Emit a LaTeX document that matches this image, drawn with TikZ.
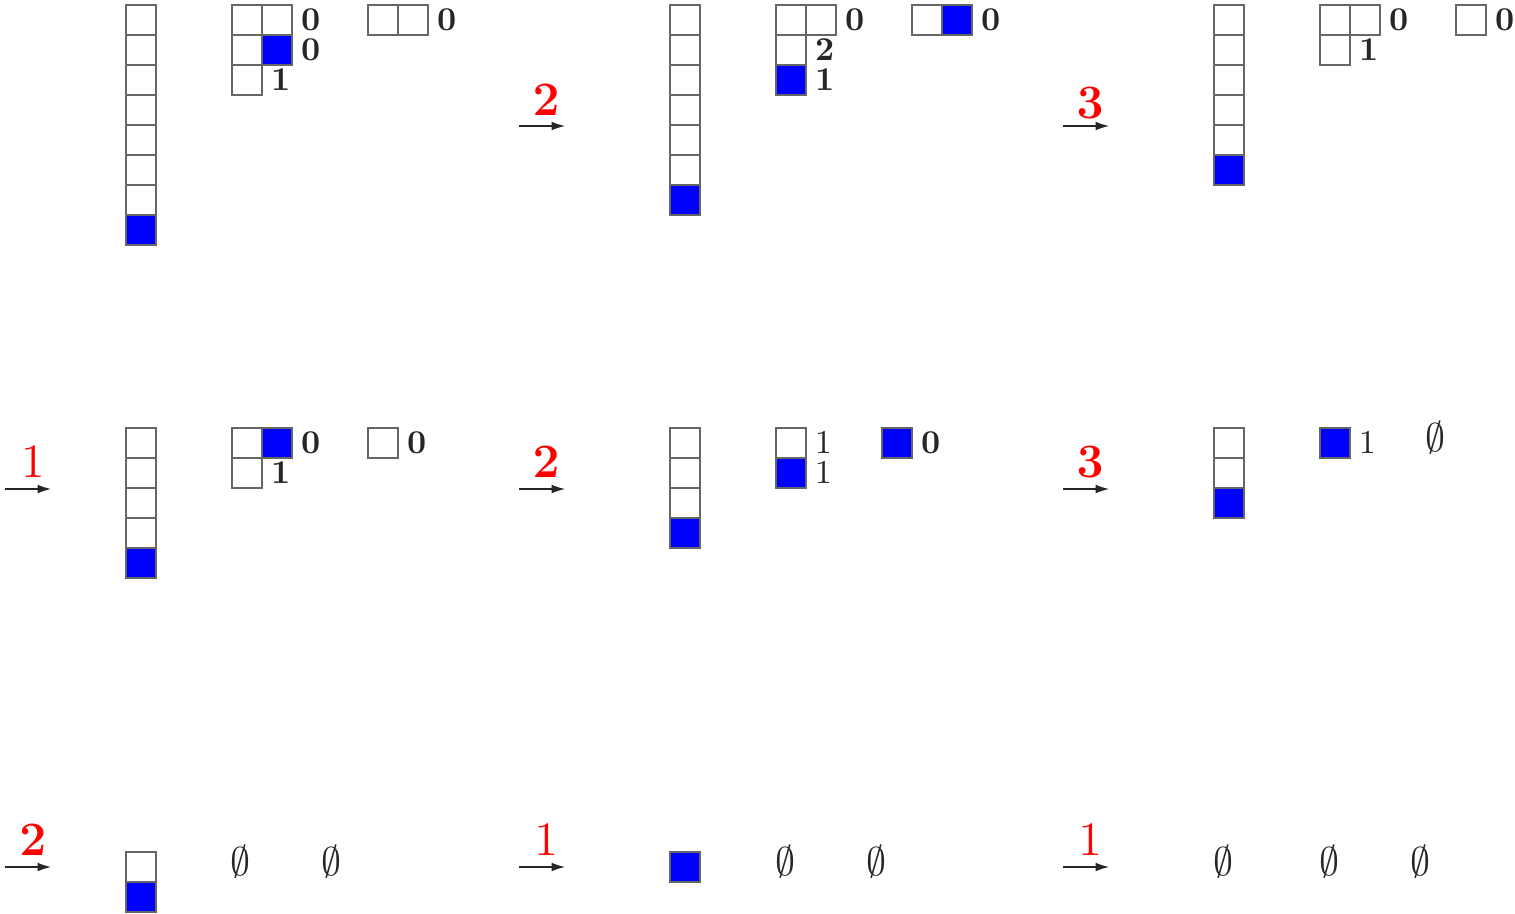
\documentclass[tikz,border=0pt]{standalone}
\usepackage{amsmath}
\usetikzlibrary{arrows.meta,positioning}
\definecolor{cellline}{HTML}{666666}
\definecolor{cellblue}{HTML}{0000FF}
\definecolor{stepred}{HTML}{FF0000}
% column of cells, the last one filled: name, x, top y, number of cells
\newcommand{\stackcol}[4]{%
  \foreach \i in {1,...,#4}{
    \ifnum\i=#4
      \node[filled] (#1-\i) at (#2,#3+30*\i-30) {};
    \else
      \node[cell] (#1-\i) at (#2,#3+30*\i-30) {};
    \fi
  }}

\begin{document}
\begin{tikzpicture}[
  x=0.3pt, y=-0.3pt,
  node distance=2.5pt,
  cell/.style={rectangle, draw=cellline, fill=white, minimum size=9pt, inner sep=0pt, outer sep=0pt, anchor=north west},
  filled/.style={cell, fill=cellblue},
  count/.style={inner sep=0pt, text=black!85},
  none/.style={count, font=\large},
  steplabel/.style={inner sep=0pt, text=stepred, font=\Large},
  arrow/.style={-{Latex[length=4pt,width=2.6pt]}, draw=black!85, line width=0.35pt}
]
\useasboundingbox (0,0) rectangle (1515,914);

% ---- first row ----
\stackcol{a1col}{126}{5}{8}
\node[cell] (a1g11) at (232,5) {};
\node[cell] (a1g12) at (262,5) {};
\node[cell] (a1g21) at (232,35) {};
\node[filled] (a1g22) at (262,35) {};
\node[cell] (a1g31) at (232,65) {};
\node[count, right=of a1g12] (a1n1) {$\mathbf{0}$};
\node[count, right=of a1g22] (a1n2) {$\mathbf{0}$};
\node[count, right=of a1g31] (a1n3) {$\mathbf{1}$};
\node[cell] (a1h1) at (368,5) {};
\node[cell] (a1h2) at (398,5) {};
\node[count, right=of a1h2] (a1n4) {$\mathbf{0}$};

\coordinate (a2s) at (519,126);
\coordinate (a2e) at (565,126);
\draw[arrow] (a2s) -- (a2e);
\node[steplabel] (a2l) at (546,100) {$\mathbf{2}$};
\stackcol{a2col}{670}{5}{7}
\node[cell] (a2g11) at (776,5) {};
\node[cell] (a2g12) at (806,5) {};
\node[cell] (a2g21) at (776,35) {};
\node[filled] (a2g31) at (776,65) {};
\node[count, right=of a2g12] (a2n1) {$\mathbf{0}$};
\node[count, right=of a2g21] (a2n2) {$\mathbf{2}$};
\node[count, right=of a2g31] (a2n3) {$\mathbf{1}$};
\node[cell] (a2h1) at (912,5) {};
\node[filled] (a2h2) at (942,5) {};
\node[count, right=of a2h2] (a2n4) {$\mathbf{0}$};

\coordinate (a3s) at (1063,126);
\coordinate (a3e) at (1109,126);
\draw[arrow] (a3s) -- (a3e);
\node[steplabel] (a3l) at (1090,103) {$\mathbf{3}$};
\stackcol{a3col}{1214}{5}{6}
\node[cell] (a3g11) at (1320,5) {};
\node[cell] (a3g12) at (1350,5) {};
\node[cell] (a3g21) at (1320,35) {};
\node[count, right=of a3g12] (a3n1) {$\mathbf{0}$};
\node[count, right=of a3g21] (a3n2) {$\mathbf{1}$};
\node[cell] (a3h1) at (1456,5) {};
\node[count, right=of a3h1] (a3n3) {$\mathbf{0}$};

% ---- second row ----
\coordinate (b1s) at (5,489);
\coordinate (b1e) at (51,489);
\draw[arrow] (b1s) -- (b1e);
\node[steplabel] (b1l) at (33,462) {$1$};
\stackcol{b1col}{126}{428}{5}
\node[cell] (b1g11) at (232,428) {};
\node[filled] (b1g12) at (262,428) {};
\node[cell] (b1g21) at (232,458) {};
\node[count, right=of b1g12] (b1n1) {$\mathbf{0}$};
\node[count, right=of b1g21] (b1n2) {$\mathbf{1}$};
\node[cell] (b1h1) at (368,428) {};
\node[count, right=of b1h1] (b1n3) {$\mathbf{0}$};

\coordinate (b2s) at (519,489);
\coordinate (b2e) at (565,489);
\draw[arrow] (b2s) -- (b2e);
\node[steplabel] (b2l) at (546,462) {$\mathbf{2}$};
\stackcol{b2col}{670}{428}{4}
\node[cell] (b2g11) at (776,428) {};
\node[filled] (b2g21) at (776,458) {};
\node[count, right=of b2g11] (b2n1) {$1$};
\node[count, right=of b2g21] (b2n2) {$1$};
\node[filled] (b2h1) at (882,428) {};
\node[count, right=of b2h1] (b2n3) {$\mathbf{0}$};

\coordinate (b3s) at (1063,489);
\coordinate (b3e) at (1109,489);
\draw[arrow] (b3s) -- (b3e);
\node[steplabel] (b3l) at (1090,462) {$\mathbf{3}$};
\stackcol{b3col}{1214}{428}{3}
\node[filled] (b3g11) at (1320,428) {};
\node[count, right=of b3g11] (b3n1) {$1$};
\node[none] (b3e1) at (1435,438) {$\emptyset$};

% ---- third row ----
\coordinate (c1s) at (5,867);
\coordinate (c1e) at (51,867);
\draw[arrow] (c1s) -- (c1e);
\node[steplabel] (c1l) at (33,840) {$\mathbf{2}$};
\stackcol{c1col}{126}{852}{2}
\node[none] (c1e1) at (240,862) {$\emptyset$};
\node[none] (c1e2) at (331,862) {$\emptyset$};

\coordinate (c2s) at (519,867);
\coordinate (c2e) at (565,867);
\draw[arrow] (c2s) -- (c2e);
\node[steplabel] (c2l) at (546,840) {$1$};
\stackcol{c2col}{670}{852}{1}
\node[none] (c2e1) at (785,862) {$\emptyset$};
\node[none] (c2e2) at (876,862) {$\emptyset$};

\coordinate (c3s) at (1063,867);
\coordinate (c3e) at (1109,867);
\draw[arrow] (c3s) -- (c3e);
\node[steplabel] (c3l) at (1090,840) {$1$};
\node[none] (c3e1) at (1223,862) {$\emptyset$};
\node[none] (c3e2) at (1329,862) {$\emptyset$};
\node[none] (c3e3) at (1420,862) {$\emptyset$};
\end{tikzpicture}
\end{document}
